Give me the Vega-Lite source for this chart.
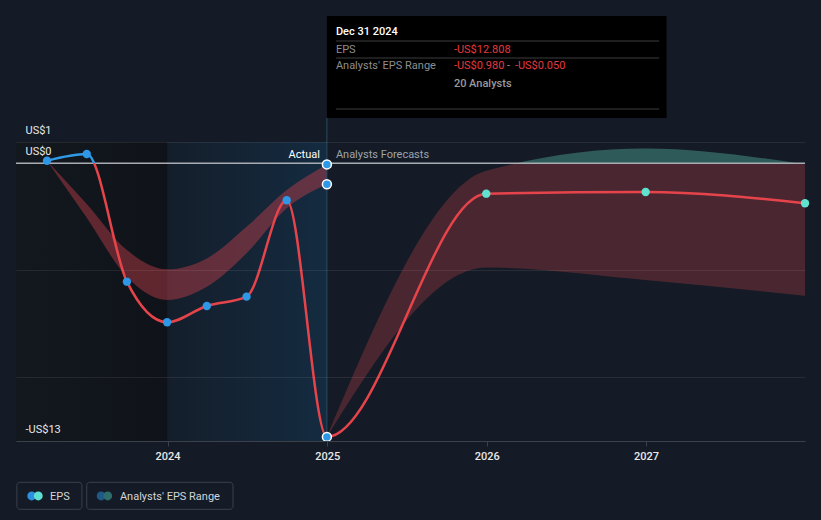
{
  "$schema": "https://vega.github.io/schema/vega-lite/v6.json",
  "width": 789,
  "height": 299,
  "autosize": {"type": "none"},
  "padding": {"left": 16, "top": 142, "right": 16, "bottom": 79},
  "background": "#151b26",
  "config": {"view": {"stroke": null}, "font": "Roboto", "text": {"font": "Roboto"}},
  "datasets": {
    "eps": [
      {"date": "2023-03-31", "eps": 0.124},
      {"date": "2023-06-30", "eps": 0.438},
      {"date": "2023-09-30", "eps": -5.54},
      {"date": "2023-12-31", "eps": -7.44},
      {"date": "2024-03-31", "eps": -6.68},
      {"date": "2024-06-30", "eps": -6.24},
      {"date": "2024-09-30", "eps": -1.73},
      {"date": "2024-12-31", "eps": -12.808},
      {"date": "2025-12-31", "eps": -1.42},
      {"date": "2026-12-31", "eps": -1.34},
      {"date": "2027-12-31", "eps": -1.87}
    ],
    "bandPast": [
      {"date": "2023-03-31", "low": 0.124, "high": 0.124},
      {"date": "2023-06-30", "low": -2.55, "high": -1.9},
      {"date": "2023-09-30", "low": -5.31, "high": -4.06},
      {"date": "2023-12-31", "low": -6.4, "high": -4.96},
      {"date": "2024-03-31", "low": -5.78, "high": -4.45},
      {"date": "2024-06-30", "low": -4.21, "high": -2.97},
      {"date": "2024-09-30", "low": -2.1, "high": -1.25},
      {"date": "2024-12-31", "low": -0.98, "high": -0.05}
    ],
    "bandForecast": [
      {"date": "2024-12-31", "low": -12.808, "high": -12.808},
      {"date": "2025-12-31", "low": -4.88, "high": -0.35},
      {"date": "2026-12-31", "low": -5.46, "high": 0.7},
      {"date": "2027-12-31", "low": -6.2, "high": -0.05}
    ],
    "selected": [
      {"date": "2024-12-31", "eps": -12.808},
      {"date": "2024-12-31", "eps": -0.98},
      {"date": "2024-12-31", "eps": -0.05}
    ]
  },
  "layer": [
    {
      "data": {"values": [{}]},
      "mark": {"type": "rect", "fill": {"gradient": "linear", "x1": 0, "x2": 1, "y1": 0, "y2": 0, "stops": [{"offset": 0, "color": "#13181f"}, {"offset": 1, "color": "#0f1319"}]}},
      "encoding": {
        "x": {"datum": {"year": 2023, "month": 1, "date": 19, "utc": true}, "type": "temporal", "title": null,
          "scale": {"type": "utc", "domain": [{"year": 2023, "month": 1, "date": 19, "utc": true}, {"year": 2027, "month": 12, "date": 31, "utc": true}]},
          "axis": {"values": [{"year": 2024, "month": 1, "date": 1, "utc": true}, {"year": 2025, "month": 1, "date": 1, "utc": true}, {"year": 2026, "month": 1, "date": 1, "utc": true}, {"year": 2027, "month": 1, "date": 1, "utc": true}],
            "format": "%Y", "formatType": "utc", "grid": false, "domainColor": "#3b414b", "tickColor": "#3b414b", "tickSize": 5, "labelPadding": 4,
            "labelColor": "#e8e8e8", "labelFontSize": 11, "labelFont": "Roboto", "labelFontWeight": 500, "zindex": 1, "title": null}},
        "x2": {"datum": {"year": 2024, "month": 1, "date": 1, "utc": true}},
        "y": {"datum": 1, "type": "quantitative", "title": null,
          "scale": {"domain": [-13, 1], "nice": false, "zero": false},
          "axis": {"values": [1, 0, -5, -10, -13], "labelExpr": "datum.value == 1 ? 'US$1' : datum.value == 0 ? 'US$0' : datum.value == -13 ? '-US$13' : ''",
            "domain": false, "ticks": false, "tickSize": 0, "labelAlign": "left", "labelPadding": -9, "labelBaseline": "alphabetic", "labelOffset": -9,
            "labelColor": "#e8e8e8", "labelFontSize": 11, "labelFont": "Roboto",
            "grid": true, "gridColor": "#ffffff", "gridOpacity": {"condition": {"test": "datum.value == 0", "value": 0}, "value": 0.08}, "zindex": 1, "title": null}},
        "y2": {"datum": -13}
      }
    },
    {
      "data": {"values": [{}]},
      "mark": {"type": "rect", "fill": {"gradient": "linear", "x1": 0, "x2": 1, "y1": 0, "y2": 0, "stops": [{"offset": 0, "color": "#141e2b"}, {"offset": 1, "color": "#142b40"}]}},
      "encoding": {
        "x": {"datum": {"year": 2024, "month": 1, "date": 1, "utc": true}, "type": "temporal", "title": null},
        "x2": {"datum": {"year": 2024, "month": 12, "date": 31, "utc": true}},
        "y": {"datum": 1, "type": "quantitative", "title": null},
        "y2": {"datum": -13}
      }
    },
    {
      "data": {"name": "bandPast"},
      "mark": {"type": "area", "interpolate": "monotone", "fill": "#c8404c", "opacity": 0.44},
      "encoding": {
        "x": {"field": "date", "type": "temporal", "title": null},
        "y": {"field": "low", "type": "quantitative", "title": null},
        "y2": {"field": "high"}
      }
    },
    {
      "data": {"name": "bandForecast"},
      "mark": {"type": "area", "interpolate": "monotone", "fill": {"gradient": "linear", "x1": 0, "x2": 0, "y1": 0, "y2": 1, "stops": [{"offset": 0, "color": "#2e5b59"}, {"offset": 0.0525, "color": "#2e5b59"}, {"offset": 0.0526, "color": "#4a2730"}, {"offset": 1, "color": "#4a2730"}]}},
      "encoding": {
        "x": {"field": "date", "type": "temporal", "title": null},
        "y": {"field": "low", "type": "quantitative", "title": null},
        "y2": {"field": "high"}
      }
    },
    {
      "data": {"values": [{}]},
      "mark": {"type": "rule", "color": "#a9adb3", "strokeWidth": 1.5},
      "encoding": {"y": {"datum": 0, "type": "quantitative", "title": null}}
    },
    {
      "data": {"values": [{}]},
      "mark": {"type": "rule", "color": "#2b4a63", "strokeWidth": 1},
      "encoding": {
        "x": {"datum": {"year": 2024, "month": 12, "date": 31, "utc": true}, "type": "temporal", "title": null},
        "y": {"datum": 2.124, "type": "quantitative", "title": null},
        "y2": {"datum": -13}
      }
    },
    {
      "data": {"name": "eps"},
      "mark": {"type": "line", "interpolate": "monotone", "strokeWidth": 2.5, "stroke": {"gradient": "linear", "x1": 0, "x2": 0, "y1": 0, "y2": 1, "stops": [{"offset": 0, "color": "#2f9ae6"}, {"offset": 0.0331, "color": "#2f9ae6"}, {"offset": 0.0332, "color": "#e6434a"}, {"offset": 1, "color": "#e6434a"}]}},
      "encoding": {
        "x": {"field": "date", "type": "temporal", "title": null},
        "y": {"field": "eps", "type": "quantitative", "title": null}
      }
    },
    {
      "data": {"name": "eps"},
      "transform": [{"filter": "utcyear(datum.date) < 2025"}],
      "mark": {"type": "point", "filled": true, "fill": "#2e98e6", "opacity": 1, "size": 70},
      "encoding": {
        "x": {"field": "date", "type": "temporal", "title": null},
        "y": {"field": "eps", "type": "quantitative", "title": null}
      }
    },
    {
      "data": {"name": "eps"},
      "transform": [{"filter": "utcyear(datum.date) >= 2025"}],
      "mark": {"type": "point", "filled": true, "fill": "#5fe3cf", "opacity": 1, "size": 70},
      "encoding": {
        "x": {"field": "date", "type": "temporal", "title": null},
        "y": {"field": "eps", "type": "quantitative", "title": null}
      }
    },
    {
      "data": {"name": "selected"},
      "mark": {"type": "point", "filled": true, "fill": "#2e98e6", "stroke": "#ffffff", "strokeWidth": 1.5, "opacity": 1, "size": 80},
      "encoding": {
        "x": {"field": "date", "type": "temporal", "title": null},
        "y": {"field": "eps", "type": "quantitative", "title": null}
      }
    },
    {
      "data": {"values": [{}]},
      "mark": {"type": "text", "text": "Actual", "align": "right", "baseline": "alphabetic", "dx": -7, "fontSize": 11, "color": "#ffffff"},
      "encoding": {
        "x": {"datum": {"year": 2024, "month": 12, "date": 31, "utc": true}, "type": "temporal", "title": null},
        "y": {"datum": 0.27, "type": "quantitative", "title": null}
      }
    },
    {
      "data": {"values": [{}]},
      "mark": {"type": "text", "text": "Analysts Forecasts", "align": "left", "baseline": "alphabetic", "dx": 9, "fontSize": 11, "color": "#9da3ab"},
      "encoding": {
        "x": {"datum": {"year": 2024, "month": 12, "date": 31, "utc": true}, "type": "temporal", "title": null},
        "y": {"datum": 0.27, "type": "quantitative", "title": null}
      }
    },
    {
      "data": {"values": [{}]},
      "mark": {"type": "rect", "fill": "#000000"},
      "encoding": {
        "x": {"datum": {"year": 2024, "month": 12, "date": 31, "utc": true}, "type": "temporal", "title": null},
        "x2": {"datum": {"year": 2027, "month": 2, "date": 17, "utc": true}},
        "y": {"datum": 6.9, "type": "quantitative", "title": null},
        "y2": {"datum": 2.124}
      }
    },
    {
      "data": {"values": [{}]},
      "mark": {"type": "rule", "color": "#3d3d3d", "strokeWidth": 1},
      "encoding": {
        "x": {"datum": {"year": 2025, "month": 1, "date": 21, "utc": true}, "type": "temporal", "title": null},
        "x2": {"datum": {"year": 2027, "month": 1, "date": 31, "utc": true}},
        "y": {"datum": 5.729, "type": "quantitative", "title": null}
      }
    },
    {
      "data": {"values": [{}]},
      "mark": {"type": "rule", "color": "#3d3d3d", "strokeWidth": 1},
      "encoding": {
        "x": {"datum": {"year": 2025, "month": 1, "date": 21, "utc": true}, "type": "temporal", "title": null},
        "x2": {"datum": {"year": 2027, "month": 1, "date": 31, "utc": true}},
        "y": {"datum": 4.933, "type": "quantitative", "title": null}
      }
    },
    {
      "data": {"values": [{}]},
      "mark": {"type": "rule", "color": "#3d3d3d", "strokeWidth": 1},
      "encoding": {
        "x": {"datum": {"year": 2025, "month": 1, "date": 21, "utc": true}, "type": "temporal", "title": null},
        "x2": {"datum": {"year": 2027, "month": 1, "date": 31, "utc": true}},
        "y": {"datum": 2.545, "type": "quantitative", "title": null}
      }
    },
    {
      "data": {"values": [{}]},
      "mark": {"type": "text", "text": "Dec 31 2024", "align": "left", "baseline": "alphabetic", "dx": 9, "fontSize": 11, "fontWeight": 500, "color": "#ffffff"},
      "encoding": {
        "x": {"datum": {"year": 2024, "month": 12, "date": 31, "utc": true}, "type": "temporal", "title": null},
        "y": {"datum": 5.99, "type": "quantitative", "title": null}
      }
    },
    {
      "data": {"values": [{}]},
      "mark": {"type": "text", "text": "EPS", "align": "left", "baseline": "alphabetic", "dx": 9, "fontSize": 11, "color": "#8e8e8e"},
      "encoding": {
        "x": {"datum": {"year": 2024, "month": 12, "date": 31, "utc": true}, "type": "temporal", "title": null},
        "y": {"datum": 5.153, "type": "quantitative", "title": null}
      }
    },
    {
      "data": {"values": [{}]},
      "mark": {"type": "text", "text": "-US$12.808", "align": "left", "baseline": "alphabetic", "dx": 127, "fontSize": 11, "color": "#e5393f"},
      "encoding": {
        "x": {"datum": {"year": 2024, "month": 12, "date": 31, "utc": true}, "type": "temporal", "title": null},
        "y": {"datum": 5.153, "type": "quantitative", "title": null}
      }
    },
    {
      "data": {"values": [{}]},
      "mark": {"type": "text", "text": "Analysts' EPS Range", "align": "left", "baseline": "alphabetic", "dx": 9, "fontSize": 11, "color": "#8e8e8e"},
      "encoding": {
        "x": {"datum": {"year": 2024, "month": 12, "date": 31, "utc": true}, "type": "temporal", "title": null},
        "y": {"datum": 4.4, "type": "quantitative", "title": null}
      }
    },
    {
      "data": {"values": [{}]},
      "mark": {"type": "text", "text": "-US$0.980", "align": "left", "baseline": "alphabetic", "dx": 127, "fontSize": 11, "color": "#e5393f"},
      "encoding": {
        "x": {"datum": {"year": 2024, "month": 12, "date": 31, "utc": true}, "type": "temporal", "title": null},
        "y": {"datum": 4.4, "type": "quantitative", "title": null}
      }
    },
    {
      "data": {"values": [{}]},
      "mark": {"type": "text", "text": "-", "align": "left", "baseline": "alphabetic", "dx": 180, "fontSize": 11, "color": "#8e8e8e"},
      "encoding": {
        "x": {"datum": {"year": 2024, "month": 12, "date": 31, "utc": true}, "type": "temporal", "title": null},
        "y": {"datum": 4.4, "type": "quantitative", "title": null}
      }
    },
    {
      "data": {"values": [{}]},
      "mark": {"type": "text", "text": "-US$0.050", "align": "left", "baseline": "alphabetic", "dx": 188, "fontSize": 11, "color": "#e5393f"},
      "encoding": {
        "x": {"datum": {"year": 2024, "month": 12, "date": 31, "utc": true}, "type": "temporal", "title": null},
        "y": {"datum": 4.4, "type": "quantitative", "title": null}
      }
    },
    {
      "data": {"values": [{}]},
      "mark": {"type": "text", "text": "20 Analysts", "align": "left", "baseline": "alphabetic", "dx": 127, "fontSize": 11, "fontWeight": 500, "color": "#9a9a9a"},
      "encoding": {
        "x": {"datum": {"year": 2024, "month": 12, "date": 31, "utc": true}, "type": "temporal", "title": null},
        "y": {"datum": 3.59, "type": "quantitative", "title": null}
      }
    },
    {
      "data": {"values": [{}]},
      "mark": {"type": "rect", "fill": "transparent", "stroke": "#3a414c", "strokeWidth": 1, "cornerRadius": 3},
      "encoding": {
        "x": {"datum": {"year": 2023, "month": 1, "date": 21, "utc": true}, "type": "temporal", "title": null},
        "x2": {"datum": {"year": 2023, "month": 6, "date": 19, "utc": true}},
        "y": {"datum": -14.934, "type": "quantitative", "title": null},
        "y2": {"datum": -16.198}
      }
    },
    {
      "data": {"values": [{}]},
      "mark": {"type": "rect", "fill": "transparent", "stroke": "#3a414c", "strokeWidth": 1, "cornerRadius": 3},
      "encoding": {
        "x": {"datum": {"year": 2023, "month": 6, "date": 30, "utc": true}, "type": "temporal", "title": null},
        "x2": {"datum": {"year": 2024, "month": 5, "date": 30, "utc": true}},
        "y": {"datum": -14.934, "type": "quantitative", "title": null},
        "y2": {"datum": -16.198}
      }
    },
    {
      "data": {"values": [{}]},
      "mark": {"type": "point", "filled": true, "fill": "#2d8fe0", "opacity": 1, "size": 78},
      "encoding": {
        "x": {"datum": {"year": 2023, "month": 2, "date": 24, "utc": true}, "type": "temporal", "title": null},
        "y": {"datum": -15.575, "type": "quantitative", "title": null}
      }
    },
    {
      "data": {"values": [{}]},
      "mark": {"type": "point", "filled": true, "fill": "#5ee0cf", "opacity": 1, "size": 78},
      "encoding": {
        "x": {"datum": {"year": 2023, "month": 3, "date": 11, "utc": true}, "type": "temporal", "title": null},
        "y": {"datum": -15.575, "type": "quantitative", "title": null}
      }
    },
    {
      "data": {"values": [{}]},
      "mark": {"type": "text", "text": "EPS", "align": "left", "baseline": "alphabetic", "fontSize": 11, "color": "#d2d5d9"},
      "encoding": {
        "x": {"datum": {"year": 2023, "month": 4, "date": 7, "utc": true}, "type": "temporal", "title": null},
        "y": {"datum": -15.763, "type": "quantitative", "title": null}
      }
    },
    {
      "data": {"values": [{}]},
      "mark": {"type": "point", "filled": true, "fill": "#1d5a8a", "opacity": 1, "size": 78},
      "encoding": {
        "x": {"datum": {"year": 2023, "month": 8, "date": 2, "utc": true}, "type": "temporal", "title": null},
        "y": {"datum": -15.575, "type": "quantitative", "title": null}
      }
    },
    {
      "data": {"values": [{}]},
      "mark": {"type": "point", "filled": true, "fill": "#2f6d6a", "opacity": 1, "size": 78},
      "encoding": {
        "x": {"datum": {"year": 2023, "month": 8, "date": 17, "utc": true}, "type": "temporal", "title": null},
        "y": {"datum": -15.575, "type": "quantitative", "title": null}
      }
    },
    {
      "data": {"values": [{}]},
      "mark": {"type": "text", "text": "Analysts' EPS Range", "align": "left", "baseline": "alphabetic", "fontSize": 11, "color": "#d2d5d9"},
      "encoding": {
        "x": {"datum": {"year": 2023, "month": 9, "date": 14, "utc": true}, "type": "temporal", "title": null},
        "y": {"datum": -15.763, "type": "quantitative", "title": null}
      }
    }
  ]
}
